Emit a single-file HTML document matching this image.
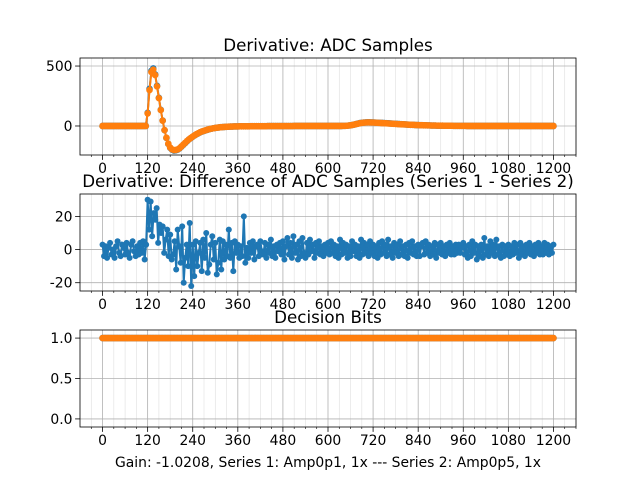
<!DOCTYPE html>
<html><head><meta charset="utf-8"><style>
html,body{margin:0;padding:0;background:#fff}
svg{display:block;font-family:"DejaVu Sans","Liberation Sans",sans-serif}
</style></head><body>
<svg id="fig" width="640" height="480" viewBox="0 0 640 480"></svg>
<script>
// ---- data ----
const topStep = 5;
const topS1 = [
 0,0,0,0,0,0,0,0,0,0,
 0,0,0,0,0,0,0,0,0,0,
 0,0,0,0,
 110,310,460,480,430,335,235,135,45,-35,
 -100,-150,-182,-198,-205,-203,-197,-187,-172,-157,
 -142,-127,-112,-101,-89,-79,-69,-61,-53,-46,
 -41,-36,-31,-26,-22,-19,-16,-14,-12,-10,
 -9,-8,-7,-6,-5,-5,
 -4,-4,-4,-3,-3,-3,-3,-3,-3,-2,
 -2,-2,-2,-2,-2,-2,-2,-2,-1,-1,
 -1,-1,-1,-1,-1,-1,-1,-1,-1,-1,
 -1,-1,0,0,0,0,0,0,0,0,
 0,0,0,0,0,0,0,0,0,0,
 0,0,0,0,0,0,0,0,1,1,
 2,4,6,9,12,16,20,24,27,29,
 30,31,31,30,30,29,28,27,26,25,
 24,23,22,21,20,19,18,17,16,15,
 14,13,12,11,10,10,9,8,8,7,
 7,6,6,5,5,4,4,4,3,3,
 3,3,2,2,2,2,2,1,1,1,
 1,1,1,1,0,0,0,0,0,0,
 0,0,0,0,0,0,0,0,0,0,
 0,0,0,0,0,0,0,0,0,0,
 0,0,0,0,0,0,0,0,0,0,
 0,0,0,0,0,0,0,0,0,0,
 0];
const topS2 = [
 0,0,0,0,0,0,0,0,0,0,
 0,0,0,0,0,0,0,0,0,0,
 0,0,0,0,
 105,300,450,470,425,330,232,133,44,-34,
 -98,-148,-180,-195,-201,-200,-195,-185,-170,-155,
 -140,-125,-111,-100,-88,-78,-68,-60,-52,-45,
 -40,-35,-30,-26,-22,-19,-16,-14,-12,-10,
 -9,-8,-7,-6,-5,-5,
 -4,-4,-4,-3,-3,-3,-3,-3,-3,-2,
 -2,-2,-2,-2,-2,-2,-2,-2,-1,-1,
 -1,-1,-1,-1,-1,-1,-1,-1,-1,-1,
 -1,-1,0,0,0,0,0,0,0,0,
 0,0,0,0,0,0,0,0,0,0,
 0,0,0,0,0,0,0,0,1,1,
 2,4,6,9,12,16,19,23,26,28,
 29,30,30,29,29,28,27,26,25,24,
 23,22,21,20,19,18,17,16,15,14,
 14,13,12,11,10,10,9,8,8,7,
 7,6,6,5,5,4,4,4,3,3,
 3,3,2,2,2,2,2,1,1,1,
 1,1,1,1,0,0,0,0,0,0,
 0,0,0,0,0,0,0,0,0,0,
 0,0,0,0,0,0,0,0,0,0,
 0,0,0,0,0,0,0,0,0,0,
 0,0,0,0,0,0,0,0,0,0,
 0];
const diffStep = 4;
const diffVals = [
 3,-4,2,-5,1,4,-3,0,-5,2,5,-2,-4,3,1,-3,4,-2,-5,3,5,-1,-4,2,-3,4,-2,5,-6,3,
 30,12,29,8,22,18,25,4,15,10,14,-2,6,12,-4,9,-6,-3,5,-12,12,2,-8,14,-20,-5,3,-10,16,-22,
 3,-16,5,-10,-2,4,-13,6,-5,10,-14,-9,3,8,-6,4,-15,-8,6,-12,5,-6,3,-4,12,-5,4,-13,5,-2,
 3,-5,2,-4,20,-8,1,-5,4,-2,5,-6,2,3,-4,5,-1,-3,4,-5,3,-2,6,-4,2,-5,3,-1,4,-3,
 5,-6,2,7,-3,4,-5,8,-2,3,-6,5,-4,7,-2,-5,4,-3,6,-1,3,-5,4,-2,5,-3,2,-4,3,-2,
 4,-3,5,-2,3,-4,2,-5,6,-3,4,-2,3,-5,2,-4,5,-1,3,-4,2,-5,6,-3,4,-2,3,-4,5,-2,
 3,-4,2,-5,4,-3,5,-2,3,-4,6,-3,2,-5,4,-2,3,-4,5,-3,2,-4,3,-5,4,-2,5,-3,2,-4,
 3,-4,2,4,-3,5,-2,3,-4,2,-3,4,-5,3,-2,4,-3,2,-4,3,-2,4,-3,2,-3,3,-2,3,-2,1,
 4,-3,2,-5,3,-4,5,-2,3,-6,2,-4,3,-5,7,-3,2,-4,5,-2,3,-4,6,-3,2,-5,3,-4,2,-3,
 3,-4,2,-3,4,-2,3,-5,4,-3,2,-4,3,-2,4,-3,2,-4,3,-2,4,-3,2,-3,4,-2,3,-3,2,-2,
 3];
const bitsStep = 4;
const bitsVals = new Array(301).fill(1);
const xTicks = [0,120,240,360,480,600,720,840,960,1080,1200];
const topYTicks = [0,500];
const midYTicks = [-20,0,20];
const botYTicks = [0.0,0.5,1.0];

// ---- drawing ----
const NS='http://www.w3.org/2000/svg';
const svg=document.getElementById('fig');
function mk(tag,attrs,parent){const e=document.createElementNS(NS,tag);for(const k in attrs)e.setAttribute(k,attrs[k]);(parent||svg).appendChild(e);return e;}
const L=80,R=576;
const xs=v=>L+(v+60)/1320*(R-L);
const BLUE='#1f77b4',ORANGE='#ff7f0e';

function axes(name,top,bot,ymin,ymax,yticks,fmt,title){
  const g=mk('g',{});
  
  
  const ys=v=>bot-(v-ymin)/(ymax-ymin)*(bot-top);
  const cp='clip-'+name;
  const cl=mk('clipPath',{id:cp},g);mk('rect',{x:L,y:top,width:R-L,height:bot-top},cl);
  for(let v=-30;v<=1260;v+=30){if(v%120===0)continue;const x=xs(v);
    const ln=mk('line',{x1:x,x2:x,y1:top,y2:bot,stroke:'#b0b0b0','stroke-width':0.6,'stroke-opacity':0.4},g);
    
    mk('line',{x1:x,x2:x,y1:bot,y2:bot+2,stroke:'#000','stroke-width':0.6},g);}
  xTicks.forEach(v=>{const x=xs(v);
    const ln=mk('line',{x1:x,x2:x,y1:top,y2:bot,stroke:'#b0b0b0','stroke-width':0.8},g);
    
    mk('line',{x1:x,x2:x,y1:bot,y2:bot+4.9,stroke:'#000','stroke-width':0.8},g);
    const t=mk('text',{x:x,y:bot+18,'font-size':'13.9px','text-anchor':'middle',fill:'#000'},g);t.textContent=v;
    });
  yticks.forEach(v=>{const y=ys(v);
    mk('line',{x1:L,x2:R,y1:y,y2:y,stroke:'#b0b0b0','stroke-width':0.8},g);
    mk('line',{x1:L-4.9,x2:L,y1:y,y2:y,stroke:'#000','stroke-width':0.8},g);
    const t=mk('text',{x:L-7.5,y:y+5,'font-size':'13.9px','text-anchor':'end',fill:'#000'},g);t.textContent=fmt(v);
    });
  const plot=mk('g',{'clip-path':'url(#'+cp+')'},g);
  const fr=mk('rect',{x:L,y:top,width:R-L,height:bot-top,fill:'none',stroke:'#000','stroke-width':0.8},g);
  
  const tt=mk('text',{x:(L+R)/2,y:top-7,'font-size':'16.7px','text-anchor':'middle',fill:'#000'},g);tt.textContent=title;
  
  return {ys,plot};
}
function series(a,xv,yv,color,name,r){
  const g=mk('g',{},a.plot);
  
  mk('polyline',{points:xv.map((x,i)=>xs(x)+','+a.ys(yv[i])).join(' '),fill:'none',stroke:color,'stroke-width':2},g);
  xv.forEach((x,i)=>mk('circle',{cx:xs(x),cy:a.ys(yv[i]),r:r||3,fill:color},g));
}
const a1=axes('top-axes',58,155,-242,567,topYTicks,v=>v,'Derivative: ADC Samples');
series(a1,topS1.map((_,i)=>i*topStep),topS1,BLUE,'series-1-line',3.3);
series(a1,topS2.map((_,i)=>i*topStep),topS2,ORANGE,'series-2-line',3.3);
const a2=axes('middle-axes',194,291,-25,33.5,midYTicks,v=>v,'Derivative: Difference of ADC Samples (Series 1 - Series 2)');
series(a2,diffVals.map((_,i)=>i*diffStep),diffVals,BLUE,'difference-line',3);
const a3=axes('bottom-axes',330,427,-0.1,1.1,botYTicks,v=>v.toFixed(1),'Decision Bits');
series(a3,bitsVals.map((_,i)=>i*bitsStep),bitsVals,BLUE,'bits-series-1',3.3);
series(a3,bitsVals.map((_,i)=>i*bitsStep),bitsVals,ORANGE,'bits-series-2',3.3);
const xl=mk('text',{x:(L+R)/2,y:467,'font-size':'13.9px','text-anchor':'middle',fill:'#000'});
xl.textContent='Gain: -1.0208, Series 1: Amp0p1, 1x --- Series 2: Amp0p5, 1x';


</script>
</body></html>
